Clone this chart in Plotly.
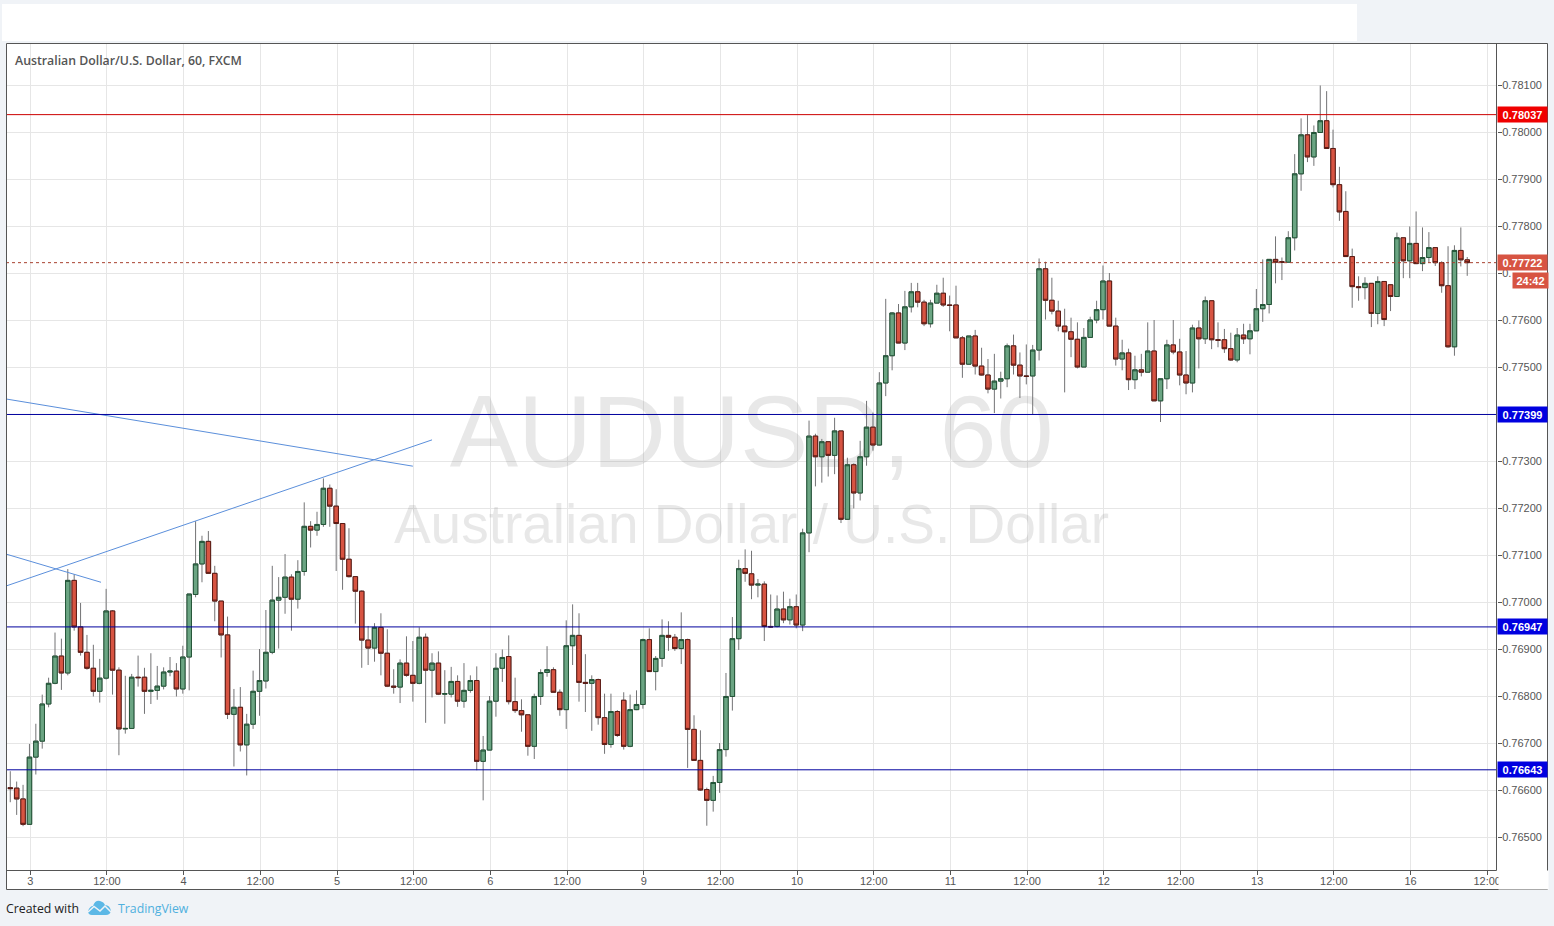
import plotly.graph_objects as go

# Prices in points (1 point = 0.00001), one entry per hourly bar
OPEN_PTS = [76605,76604,76581,76527,76670,76704,76783,76827,76885,76849,
77046,76947,76893,76859,76810,76838,76981,76855,76730,76731,
76840,76840,76810,76812,76821,76851,76853,76815,76883,77016,
77081,77129,77061,77002,76930,76761,76776,76696,76740,76810,
76832,76893,77004,77010,77053,77006,77065,77161,77153,77165,
77242,77204,77167,77091,77054,77023,76919,76902,76946,76891,
76821,76819,76870,76844,76827,76925,76855,76870,76804,76804,
76831,76789,76812,76833,76661,76685,76789,76859,76884,76788,
76769,76760,76693,76799,76850,76856,76808,76771,76907,76929,
76829,76827,76835,76754,76697,76767,76791,76693,76771,76782,
76920,76852,76880,76929,76925,76901,76920,76729,76663,76601,
76578,76616,76686,76799,76922,77071,77060,77036,77038,76948,
76948,76985,76962,76990,76951,77147,77353,77309,77341,77312,
77364,77176,77292,77232,77309,77372,77334,77466,77524,77615,
77551,77628,77660,77638,77592,77636,77657,77632,77632,77562,
77506,77566,77502,77483,77453,77470,77475,77545,77504,77481,
77481,77536,77709,77642,77619,77587,77575,77559,77500,77563,
77600,77622,77683,77587,77517,77530,77473,77494,77489,77534,
77428,77475,77547,77532,77483,77466,77583,77560,77641,77558,
77558,77539,77515,77568,77560,77577,77624,77633,77729,77724,
77723,77775,77911,77994,77947,77999,78024,77965,77888,77831,
77735,77671,77669,77678,77614,77682,77675,77650,77775,77726,
77763,77720,77733,77754,77722,77673,77543,77748,77728]

HIGH_PTS = [76640,76618,76611,76698,76741,76803,76839,76935,76922,77070,
77059,76998,76930,76909,76879,77028,76983,76861,76843,76847,
76886,76860,76891,76864,76861,76883,76870,76907,77017,77172,
77141,77151,77077,77002,76969,76815,76819,76762,76854,76900,
76983,77077,77053,77102,77059,77089,77212,77172,77192,77263,
77250,77240,77167,77157,77054,77025,76949,76955,76976,76942,
76857,76878,76927,76917,76946,76933,76891,76895,76855,76862,
76844,76870,76844,76863,76715,76800,76891,76899,76929,76839,
76793,76760,76805,76857,76906,76861,76814,76961,76995,76976,
76889,76844,76837,76805,76805,76770,76808,76803,76812,76922,
76944,76885,76963,76959,76932,76978,76922,76759,76727,76605,
76630,76700,76849,76968,77090,77112,77109,77049,77044,77016,
77014,77022,77007,77016,77156,77386,77358,77347,77341,77392,
77364,77307,77295,77343,77428,77403,77489,77645,77617,77634,
77662,77679,77679,77643,77643,77675,77690,77652,77673,77566,
77566,77579,77541,77517,77528,77490,77550,77569,77531,77548,
77547,77731,77724,77690,77641,77624,77605,77595,77583,77607,
77641,77716,77700,77605,77558,77539,77524,77528,77595,77600,
77475,77558,77600,77560,77534,77590,77599,77650,77641,77595,
77581,77573,77583,77592,77592,77666,77729,77729,77778,77733,
77789,77953,78029,78036,78014,78099,78087,78005,77926,77874,
77752,77693,77691,77678,77693,77682,77675,77786,77775,77799,
77831,77797,77787,77754,77725,77757,77759,77797,77734]

LOW_PTS = [76574,76547,76523,76527,76633,76688,76776,76825,76813,76844,
76939,76886,76856,76799,76786,76835,76803,76674,76720,76731,
76820,76762,76783,76792,76814,76842,76799,76805,76812,77010,
77042,77061,76959,76882,76751,76650,76682,76631,76730,76758,
76816,76889,76901,76975,76939,76986,77056,77116,77141,77160,
77160,77066,77026,77052,76954,76860,76866,76873,76844,76819,
76805,76785,76841,76788,76825,76743,76797,76802,76741,76797,
76777,76775,76807,76642,76578,76685,76756,76830,76782,76764,
76724,76673,76666,76781,76841,76808,76758,76730,76866,76788,
76766,76726,76739,76677,76690,76713,76686,76691,76770,76773,
76852,76812,76862,76896,76896,76868,76647,76663,76598,76524,
76554,76594,76671,76769,76898,77043,77006,77010,76917,76945,
76946,76955,76952,76944,76938,77106,77246,77254,77267,77272,
77168,77175,77199,77216,77290,77322,77333,77438,77493,77551,
77536,77616,77627,77587,77584,77636,77628,77576,77562,77477,
77505,77484,77482,77444,77402,77433,77457,77484,77434,77463,
77399,77514,77601,77612,77576,77446,77521,77497,77500,77563,
77593,77601,77587,77503,77493,77451,77453,77480,77489,77428,
77383,77453,77527,77461,77442,77446,77497,77549,77538,77542,
77530,77513,77510,77549,77527,77577,77596,77614,77678,77685,
77723,77748,77875,77936,77928,77999,77965,77882,77811,77735,
77626,77641,77644,77585,77591,77587,77619,77650,77689,77689,
77719,77704,77722,77715,77658,77541,77524,77714,77694]

CLOSE_PTS = [76603,76581,76527,76670,76704,76783,76827,76885,76849,77046,
76947,76893,76859,76810,76838,76981,76855,76730,76731,76840,
76839,76810,76812,76821,76851,76853,76815,76883,77017,77081,
77129,77061,77002,76930,76761,76776,76696,76740,76810,76833,
76893,77004,77010,77053,77006,77065,77161,77153,77165,77242,
77204,77167,77091,77054,77023,76919,76902,76946,76891,76821,
76819,76870,76844,76827,76925,76855,76870,76804,76805,76831,
76789,76812,76833,76661,76685,76789,76859,76882,76788,76769,
76760,76693,76799,76850,76856,76808,76771,76907,76929,76829,
76827,76835,76754,76697,76767,76716,76693,76771,76782,76920,
76852,76880,76929,76925,76901,76920,76729,76663,76600,76578,
76616,76686,76799,76922,77071,77061,77036,77038,76948,76947,
76985,76962,76990,76951,77147,77353,77309,77341,77312,77364,
77176,77292,77232,77309,77372,77334,77466,77524,77615,77551,
77628,77660,77638,77592,77636,77657,77632,77631,77562,77506,
77566,77502,77483,77453,77470,77475,77545,77504,77481,77480,
77536,77709,77642,77619,77587,77575,77559,77500,77563,77600,
77622,77683,77587,77517,77530,77473,77494,77489,77534,77428,
77475,77547,77532,77483,77466,77583,77560,77641,77558,77557,
77539,77515,77568,77560,77577,77624,77633,77729,77723,77723,
77775,77911,77994,77947,77999,78024,77965,77888,77830,77735,
77671,77669,77678,77614,77682,77601,77650,77775,77726,77763,
77720,77733,77754,77722,77673,77543,77748,77728,77722]

OPEN = [v / 1e5 for v in OPEN_PTS]
HIGH = [v / 1e5 for v in HIGH_PTS]
LOW = [v / 1e5 for v in LOW_PTS]
CLOSE = [v / 1e5 for v in CLOSE_PTS]
BARS = list(range(len(OPEN)))

X_TICK_BARS = [3.13, 15.13, 27.13, 39.13, 51.13, 63.13, 75.13, 87.13, 99.13, 111.13,
               123.13, 135.13, 147.13, 159.13, 171.13, 183.13, 195.13, 207.13, 219.13, 231.13]
X_TICK_LABELS = ["3", "12:00", "4", "12:00", "5", "12:00", "6", "12:00", "9", "12:00",
                 "10", "12:00", "11", "12:00", "12", "12:00", "13", "12:00", "16", "12:00"]
Y_TICKS = [0.765, 0.766, 0.767, 0.768, 0.769, 0.770, 0.771, 0.772, 0.773,
           0.774, 0.775, 0.776, 0.777, 0.778, 0.779, 0.780, 0.781]
Y_TICK_LABELS = ["0.76500", "0.76600", "0.76700", "0.76800", "0.76900", "0.77000", "0.77100", "0.77200", "0.77300",
                 "0.77400", "0.77500", "0.77600", "0.", "0.77800", "0.77900", "0.78000", "0.78100"]

RESISTANCE = 0.78037
SUPPORTS = [0.77399, 0.76947, 0.76643]
LAST_PRICE = 0.77722
TREND_LINES = [
    ([-0.67, 63.0], [0.77432, 0.77289]),
    ([-0.67, 66.0], [0.77034, 0.77345]),
    ([-0.67, 14.2], [0.77102, 0.77042]),
]

W, H = 1554, 926
L, R, T, B = 6, 1497, 43, 870
XRANGE = [-0.67, 232.66]
YRANGE = [0.764298, 0.781894]


def px(x):
    return (x - L) / (R - L)


def py(y):
    return (B - y) / (B - T)


fig = go.Figure()

FONT = "Liberation Sans, Arial, sans-serif"
WM = "rgba(120,120,120,0.17)"
fig.add_trace(go.Scatter(x=[116.0], y=[0.77342], mode="text", text=["AUDUSD, 60"], zorder=-1,
                         textfont=dict(family=FONT, size=102.5, color=WM), hoverinfo="skip", showlegend=False))
fig.add_trace(go.Scatter(x=[116.0], y=[0.77155], mode="text", text=["Australian Dollar / U.S. Dollar"], zorder=-1,
                         textfont=dict(family=FONT, size=55, color=WM), hoverinfo="skip", showlegend=False))

# wicks
fig.add_trace(go.Candlestick(
    x=BARS, open=OPEN, high=HIGH, low=LOW, close=CLOSE, zorder=1, showlegend=False, hoverinfo="skip",
    increasing=dict(line=dict(color="#737375", width=1), fillcolor="#737375"),
    decreasing=dict(line=dict(color="#737375", width=1), fillcolor="#737375"),
))
# bodies
fig.add_trace(go.Candlestick(
    x=BARS, open=OPEN, close=CLOSE, zorder=1, showlegend=False,
    high=[max(o, c) for o, c in zip(OPEN, CLOSE)],
    low=[min(o, c) for o, c in zip(OPEN, CLOSE)],
    increasing=dict(line=dict(color="#225437", width=1), fillcolor="#6ba583"),
    decreasing=dict(line=dict(color="#5b1a13", width=1), fillcolor="#d75442"),
))
for xs, ys in TREND_LINES:
    fig.add_trace(go.Scatter(x=xs, y=ys, mode="lines", zorder=2, showlegend=False, hoverinfo="skip",
                             line=dict(color="#5b8fdb", width=1)))

shapes = [
    # white top strip and white chart panel
    dict(type="rect", xref="paper", yref="paper", x0=px(2), x1=px(1357), y0=py(41), y1=py(4),
         fillcolor="#ffffff", line_width=0, layer="below"),
    dict(type="rect", xref="paper", yref="paper", x0=px(6), x1=px(1547), y0=py(889), y1=py(43),
         fillcolor="#ffffff", line_width=0, layer="below"),
    # horizontal levels
    dict(type="line", xref="paper", x0=0, x1=1, y0=RESISTANCE, y1=RESISTANCE, line=dict(color="#cc0000", width=1)),
    dict(type="line", xref="paper", x0=0, x1=1, y0=LAST_PRICE, y1=LAST_PRICE,
         line=dict(color="#a8402f", width=1, dash="dot")),
]
for s in SUPPORTS:
    shapes.append(dict(type="line", xref="paper", x0=0, x1=1, y0=s, y1=s, line=dict(color="#00009e", width=1)))

# frame
FRAME = "#555555"
for x0, y0, x1, y1 in [(6.5, 43.5, 1547.5, 43.5), (6.5, 889.5, 1547.5, 889.5), (6.5, 43.5, 6.5, 889.5),
                       (1547.5, 43.5, 1547.5, 889.5), (1496.5, 43.5, 1496.5, 870.5), (6.5, 870.5, 1496.5, 870.5)]:
    shapes.append(dict(type="line", xref="paper", yref="paper", x0=px(x0), x1=px(x1), y0=py(y0), y1=py(y1),
                       line=dict(color=FRAME, width=1)))

# TradingView logo
def pth(cmds):
    out = []
    for c in cmds:
        if isinstance(c, str):
            out.append(c)
        else:
            out.append(f"{px(c[0]):.5f},{py(c[1]):.5f}")
    return " ".join(out)


cloud = pth(["M", (88, 911), "Q", (90, 906), (93, 906), "Q", (95, 900), (100, 901), "Q", (104, 902), (105, 905),
             "Q", (110, 905), (111, 911), "Q", (110, 915), (106, 915), "L", (92, 915), "Q", (88, 915), (88, 911), "Z"])
zig = pth(["M", (88, 912), "L", (94, 906.5), "L", (100, 911), "L", (105, 906), "L", (111, 912)])
shapes.append(dict(type="path", xref="paper", yref="paper", path=cloud, fillcolor="#5cb8e6", line_width=0))
shapes.append(dict(type="path", xref="paper", yref="paper", path=zig, line=dict(color="#f0f3f7", width=1.5)))

annotations = []


def label(text, y, bg, yref="y", x0=1497.0, width=47, weight="bold"):
    annotations.append(dict(text=text, xref="paper", yref=yref, x=px(x0), y=y, xanchor="left", yanchor="middle",
                            showarrow=False, bgcolor=bg, width=width, height=13, borderpad=1, align="center",
                            font=dict(family=FONT, size=11, color="#ffffff", weight=weight)))


label(f"{RESISTANCE:.5f}", RESISTANCE, "#f00000")
for s in SUPPORTS:
    label(f"{s:.5f}", s, "#0000e0")
label(f"{LAST_PRICE:.5f}", LAST_PRICE, "#d75442")
label("24:42", py(280), "#d75442", yref="paper", x0=1512, width=33)

# mask that clips the last time label at the price-scale edge
annotations.append(dict(text=" ", xref="paper", yref="paper", x=px(1497.5), y=py(879.5), xanchor="left",
                        yanchor="middle", showarrow=False, bgcolor="#ffffff", width=47, height=16, borderpad=1))

annotations.append(dict(text="Australian Dollar/U.S. Dollar, 60, FXCM", xref="paper", yref="paper", x=px(13), y=py(60),
                        xanchor="left", yanchor="middle", showarrow=False,
                        font=dict(family="Open Sans, sans-serif", size=12.3, color="#555555", weight=600)))
annotations.append(dict(text="Created with", xref="paper", yref="paper", x=px(4), y=py(908),
                        xanchor="left", yanchor="middle", showarrow=False,
                        font=dict(family="Open Sans, sans-serif", size=12.3, color="#222222")))
annotations.append(dict(text="TradingView", xref="paper", yref="paper", x=px(116), y=py(908),
                        xanchor="left", yanchor="middle", showarrow=False,
                        font=dict(family="Open Sans, sans-serif", size=12.3, color="#4fb0de")))

fig.update_layout(
    width=W, height=H, autosize=False,
    margin=dict(l=L, r=W - R, t=T, b=H - B, pad=0),
    paper_bgcolor="#f0f3f7", plot_bgcolor="#ffffff",
    showlegend=False, boxgap=0.3, boxgroupgap=0,
    shapes=shapes, annotations=annotations,
    xaxis=dict(range=XRANGE, type="linear", rangeslider=dict(visible=False), tickmode="array",
               tickvals=X_TICK_BARS, ticktext=X_TICK_LABELS, showgrid=True, gridcolor="#e6e6e6", gridwidth=1,
               zeroline=False, ticks="outside", ticklen=4, tickcolor="#555555", showline=False,
               ticklabelstandoff=-3,
               tickfont=dict(family=FONT, size=11, color="#555555")),
    yaxis=dict(range=YRANGE, side="right", tickmode="array", tickvals=Y_TICKS,
               ticktext=Y_TICK_LABELS, showgrid=True, gridcolor="#e6e6e6", gridwidth=1,
               zeroline=False, ticks="outside", ticklen=4, tickcolor="#555555", showline=False,
               ticklabelstandoff=-2,
               tickfont=dict(family=FONT, size=11, color="#555555")),
)

fig.write_html("out.html", config=dict(displayModeBar=False),
               post_script="document.body.style.margin='0';document.body.style.overflow='hidden';")
